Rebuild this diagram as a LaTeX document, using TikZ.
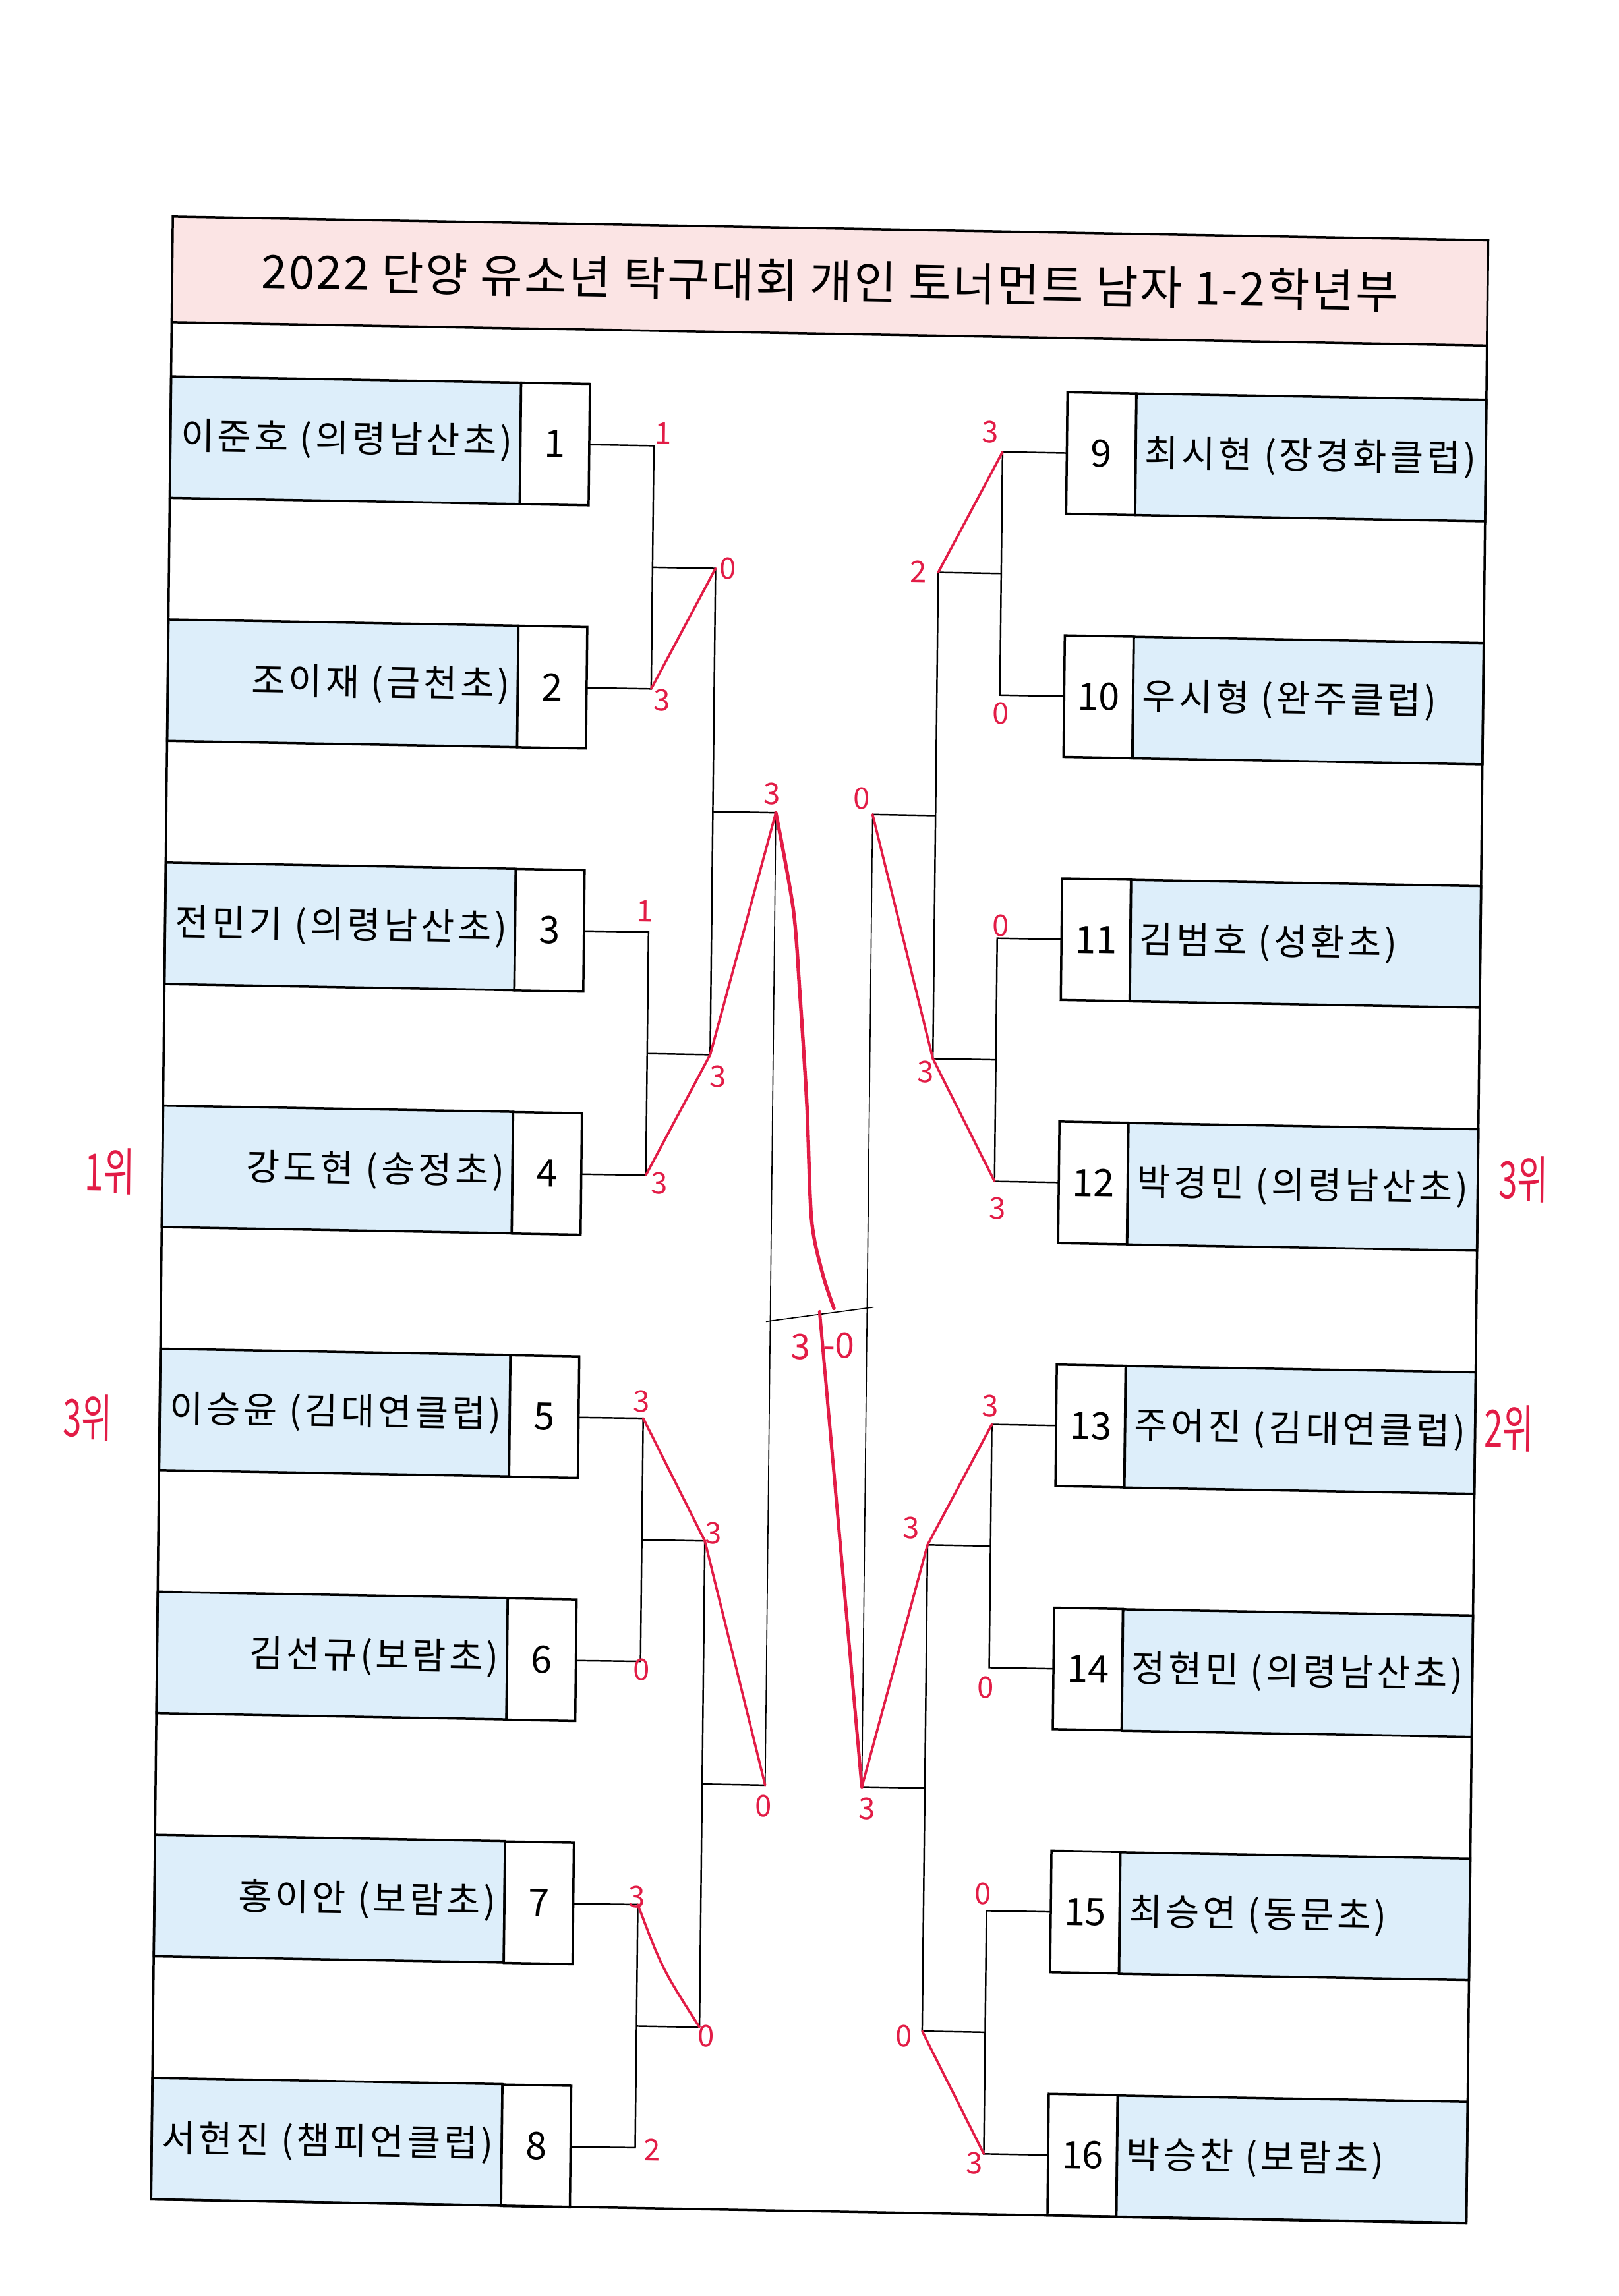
\documentclass[tikz,border=0pt]{standalone}
\usepackage{fontspec}
\setmainfont{Noto Sans CJK KR}
\newfontfamily\namefont[LetterSpace=9]{Noto Sans CJK KR}
\newfontfamily\headfont[LetterSpace=4]{Noto Sans CJK KR}
\usetikzlibrary{positioning}
\definecolor{namefill}{RGB}{221,238,250}
\definecolor{titlefill}{RGB}{251,228,228}
\definecolor{pen}{RGB}{226,28,70}
\begin{document}
\begin{tikzpicture}[x=0.019005cm, y=-0.019005cm,
        namebox/.style={draw, line width=0.85pt, fill=namefill, outer sep=0pt, inner sep=0pt, minimum width=4.542cm, minimum height=1.577cm},
        numbox/.style={draw, line width=0.85pt, fill=white, outer sep=0pt, inner sep=0pt, minimum width=0.893cm, minimum height=1.577cm, font=\fontsize{14}{14}\selectfont},
        player/.style={inner sep=0pt, font=\namefont\fontsize{13.5}{14}\selectfont},
        wire/.style={line width=0.6pt},
        thinwire/.style={line width=0.4pt},
        pencil/.style={draw=pen, line width=0.9pt, line cap=round, line join=round},
        score/.style={text=pen, inner sep=0pt, font=\fontsize{11}{11}\selectfont},
        rank/.style={text=pen, inner sep=0pt, xscale=0.65, font=\fontsize{19}{19}\selectfont}]
    \useasboundingbox[fill=white] (0,0) rectangle (1105,1568);
    \begin{scope}[shift={(118,148)}, cm={1,-0.0178,0.011,1,(0,0)}, transform shape]
        % title band
        \fill[titlefill] (0,0) rectangle (898,72);
        \node[inner sep=0pt, font=\headfont\fontsize{17}{17}\selectfont] (title) at (449,36) {2022 단양 유소년 탁구대회 개인 토너먼트 남자 1-2학년부};

        % left half
        \node[namebox] (b1) at (119.5,150.5) {};
        \node[numbox, right=0pt of b1] (n1) {1};
        \node[player, left=0.1cm of n1.west] (t1) {이준호 (의령남산초)};
        \node[namebox] (b2) at (119.5,316.5) {};
        \node[numbox, right=0pt of b2] (n2) {2};
        \node[player, left=0.1cm of n2.west] (t2) {조이재 (금천초)};
        \node[namebox] (b3) at (119.5,482.5) {};
        \node[numbox, right=0pt of b3] (n3) {3};
        \node[player, left=0.1cm of n3.west] (t3) {전민기 (의령남산초)};
        \node[namebox] (b4) at (119.5,648.5) {};
        \node[numbox, right=0pt of b4] (n4) {4};
        \node[player, left=0.1cm of n4.west] (t4) {강도현 (송정초)};
        \node[namebox] (b5) at (119.5,814.5) {};
        \node[numbox, right=0pt of b5] (n5) {5};
        \node[player, left=0.1cm of n5.west] (t5) {이승윤 (김대연클럽)};
        \node[namebox] (b6) at (119.5,980.5) {};
        \node[numbox, right=0pt of b6] (n6) {6};
        \node[player, left=0.1cm of n6.west] (t6) {김선규(보람초)};
        \node[namebox] (b7) at (119.5,1146.5) {};
        \node[numbox, right=0pt of b7] (n7) {7};
        \node[player, left=0.1cm of n7.west] (t7) {홍이안 (보람초)};
        \node[namebox] (b8) at (119.5,1312.5) {};
        \node[numbox, right=0pt of b8] (n8) {8};
        \node[player, left=0.1cm of n8.west] (t8) {서현진 (챔피언클럽)};

        % right half
        \node[numbox] (n9) at (635.5,150.5) {9};
        \node[namebox, right=0pt of n9] (b9) {};
        \node[player, right=0.11cm of n9.east] (t9) {최시현 (장경화클럽)};
        \node[numbox] (n10) at (635.5,316.5) {10};
        \node[namebox, right=0pt of n10] (b10) {};
        \node[player, right=0.11cm of n10.east] (t10) {우시형 (완주클럽)};
        \node[numbox] (n11) at (635.5,482.5) {11};
        \node[namebox, right=0pt of n11] (b11) {};
        \node[player, right=0.11cm of n11.east] (t11) {김범호 (성환초)};
        \node[numbox] (n12) at (635.5,648.5) {12};
        \node[namebox, right=0pt of n12] (b12) {};
        \node[player, right=0.11cm of n12.east] (t12) {박경민 (의령남산초)};
        \node[numbox] (n13) at (635.5,814.5) {13};
        \node[namebox, right=0pt of n13] (b13) {};
        \node[player, right=0.11cm of n13.east] (t13) {주어진 (김대연클럽)};
        \node[numbox] (n14) at (635.5,980.5) {14};
        \node[namebox, right=0pt of n14] (b14) {};
        \node[player, right=0.11cm of n14.east] (t14) {정현민 (의령남산초)};
        \node[numbox] (n15) at (635.5,1146.5) {15};
        \node[namebox, right=0pt of n15] (b15) {};
        \node[player, right=0.11cm of n15.east] (t15) {최승연 (동문초)};
        \node[numbox] (n16) at (635.5,1312.5) {16};
        \node[namebox, right=0pt of n16] (b16) {};
        \node[player, right=0.11cm of n16.east] (t16) {박승찬 (보람초)};

        % frame
        \draw[line width=0.85pt] (0,0) rectangle (898,1354);
        \draw[line width=0.85pt] (0,72) -- (898,72);

        % bracket points
        \coordinate (r1) at (330,150.5);
        \coordinate (r2) at (330,316.5);
        \coordinate (r3) at (330,482.5);
        \coordinate (r4) at (330,648.5);
        \coordinate (r5) at (330,814.5);
        \coordinate (r6) at (330,980.5);
        \coordinate (r7) at (330,1146.5);
        \coordinate (r8) at (330,1312.5);
        \coordinate (r9) at (568,150.5);
        \coordinate (r10) at (568,316.5);
        \coordinate (r11) at (568,482.5);
        \coordinate (r12) at (568,648.5);
        \coordinate (r13) at (568,814.5);
        \coordinate (r14) at (568,980.5);
        \coordinate (r15) at (568,1146.5);
        \coordinate (r16) at (568,1312.5);
        \coordinate (h1) at (330,233.5);
        \coordinate (h2) at (330,565.5);
        \coordinate (h3) at (330,897.5);
        \coordinate (h4) at (330,1229.5);
        \coordinate (h5) at (568,233.5);
        \coordinate (h6) at (568,565.5);
        \coordinate (h7) at (568,897.5);
        \coordinate (h8) at (568,1229.5);
        \coordinate (q1) at (373,233.5);
        \coordinate (q2) at (373,565.5);
        \coordinate (q3) at (373,897.5);
        \coordinate (q4) at (373,1229.5);
        \coordinate (q5) at (525,233.5);
        \coordinate (q6) at (525,565.5);
        \coordinate (q7) at (525,897.5);
        \coordinate (q8) at (525,1229.5);
        \coordinate (g1) at (373,399.5);
        \coordinate (g2) at (373,1063.5);
        \coordinate (g3) at (525,399.5);
        \coordinate (g4) at (525,1063.5);
        \coordinate (f1) at (416,399.5);
        \coordinate (f2) at (416,1063.5);
        \coordinate (f3) at (482,399.5);
        \coordinate (f4) at (482,1063.5);
        \coordinate (fl) at (413,747);
        \coordinate (fr) at (486.4,735.9);
        \coordinate (fa) at (459.4,737.2);
        \coordinate (fb) at (449.6,739.6);

        % brackets
        \draw[wire] (n1.east) -- (r1) -- (r2) -- (n2.east);
        \draw[wire] (n3.east) -- (r3) -- (r4) -- (n4.east);
        \draw[wire] (n5.east) -- (r5) -- (r6) -- (n6.east);
        \draw[wire] (n7.east) -- (r7) -- (r8) -- (n8.east);
        \draw[wire] (n9.west) -- (r9) -- (r10) -- (n10.west);
        \draw[wire] (n11.west) -- (r11) -- (r12) -- (n12.west);
        \draw[wire] (n13.west) -- (r13) -- (r14) -- (n14.west);
        \draw[wire] (n15.west) -- (r15) -- (r16) -- (n16.west);
        \draw[wire] (h1) -- (q1);
        \draw[wire] (h2) -- (q2);
        \draw[wire] (h3) -- (q3);
        \draw[wire] (h4) -- (q4);
        \draw[wire] (h5) -- (q5);
        \draw[wire] (h6) -- (q6);
        \draw[wire] (h7) -- (q7);
        \draw[wire] (h8) -- (q8);
        \draw[wire] (q1) -- (q2);
        \draw[wire] (q3) -- (q4);
        \draw[wire] (q5) -- (q6);
        \draw[wire] (q7) -- (q8);
        \draw[wire] (g1) -- (f1);
        \draw[wire] (g2) -- (f2);
        \draw[wire] (g3) -- (f3);
        \draw[wire] (g4) -- (f4);
        \draw[thinwire] (f1) -- (f2);
        \draw[thinwire] (f3) -- (f4);
        \draw[thinwire] (fl) -- (fr);

        % red pen: winners
        \draw[pencil] (r2) -- (q1);
        \draw[pencil] (r4) -- (q2) -- (f1);
        \draw[pencil] (r5) -- (q3) -- (f2);
        \draw[pencil] (r7) .. controls (347,1190) .. (q4);
        \draw[pencil] (r9) -- (q5);
        \draw[pencil] (r12) -- (q6) -- (f3);
        \draw[pencil] (r13) -- (q7) -- (f4);
        \draw[pencil] (r16) -- (q8);
        \draw[pencil, line width=1.3pt] plot[smooth] coordinates {(f1) (428.7,465.2) (434,524.8) (439.5,599.3) (443.5,676.8) (451.5,714) (fa)};
        \draw[pencil, line width=1.2pt] (fb) -- (f4);

        % red pen: scores
        \node[score] (sc1) at (336.6,142.1) {1};
        \node[score] (sc2) at (337.6,324.2) {3};
        \node[score] (sc3) at (381.6,233.4) {0};
        \node[score] (sc4) at (327.2,468.4) {1};
        \node[score] (sc5) at (339.3,654.2) {3};
        \node[score] (sc6) at (378.5,580.5) {3};
        \node[score] (sc7) at (413.3,386.8) {3};
        \node[score] (sc8) at (328.9,803.4) {3};
        \node[score] (sc9) at (330.9,986.4) {0};
        \node[score] (sc10) at (378.9,892.5) {3};
        \node[score] (sc11) at (329.6,1141.5) {3};
        \node[score] (sc12) at (341.5,1314.3) {2};
        \node[score] (sc13) at (377.7,1235.6) {0};
        \node[score] (sc14) at (414.9,1077.9) {0};
        \node[score] (sc15) at (559.6,137.2) {3};
        \node[score] (sc16) at (568.7,329.1) {0};
        \node[score] (sc17) at (511.7,233.1) {2};
        \node[score] (sc18) at (570.3,474.1) {0};
        \node[score] (sc19) at (570.4,667.1) {3};
        \node[score] (sc20) at (520.4,575) {3};
        \node[score] (sc21) at (474.4,388.8) {0};
        \node[score] (sc22) at (566.9,802.2) {3};
        \node[score] (sc23) at (566,994.3) {0};
        \node[score] (sc24) at (513.8,886.2) {3};
        \node[score] (sc25) at (565.6,1135.3) {0};
        \node[score] (sc26) at (561.6,1319.4) {3};
        \node[score] (sc27) at (512.7,1233.3) {0};
        \node[score] (sc28) at (486,1078.7) {3};
        \node[score, font=\fontsize{13}{13}\selectfont] (fin3) at (437.2,763.8) {3};
        \node[score, font=\fontsize{13}{13}\selectfont] (fin0) at (463,762.6) {-0};

        % red pen: places
        \node[rank] (rk1) at (-35.8,652.8) {1위};
        \node[rank] (rk3a) at (-49,821) {3위};
        \node[rank] (rk3b) at (929.2,640.9) {3위};
        \node[rank] (rk2) at (921.1,811) {2위};
    \end{scope}
\end{tikzpicture}
\end{document}
